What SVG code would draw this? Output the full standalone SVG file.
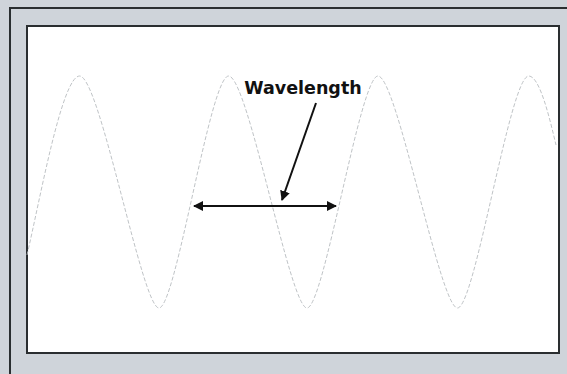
<svg xmlns="http://www.w3.org/2000/svg" width="567" height="374" viewBox="0 0 567 374">
<style>
.frame{fill:none;stroke:#2a2e30;stroke-width:2}
.wave{fill:none;stroke:#b8bcbf;stroke-width:0.9;stroke-dasharray:4 2}
.conn{fill:none;stroke:#111;stroke-width:2}
.lbl{font-family:"DejaVu Sans",Verdana,sans-serif;font-weight:bold;font-size:17.5px;fill:#111}
</style>
<defs>
<marker id="ah" viewBox="0 0 10 10" refX="9" refY="5" markerWidth="5" markerHeight="5" orient="auto-start-reverse">
<path d="M0,0 L10,5 L0,10 Z" fill="#111"/>
</marker>
</defs>
<rect x="0" y="0" width="567" height="374" fill="#cfd4da"/>
<rect class="frame" x="10" y="8" width="600" height="400"/>
<rect x="27" y="26" width="532" height="327" fill="#fff" stroke="#2a2e30" stroke-width="2"/>
<g id="wave">
<path class="wave" d="M27,255 C40,200 62,76 79.6,76 C100,76 142,308 159,308 C176,308 210,76 228.6,76 C248,76 290,308 307,308 C324,308 360,76 378,76 C397,76 440,308 457.5,308 C475,308 510,76 528.7,76 C540,76 550,120 556,145"/>
</g>
<g id="label">
<text class="lbl" x="303" y="94" text-anchor="middle">Wavelength</text>
</g>
<g id="connectors">
<line class="conn" x1="194" y1="206" x2="336" y2="206" marker-start="url(#ah)" marker-end="url(#ah)"/>
<line class="conn" x1="316" y1="103" x2="282" y2="200" marker-end="url(#ah)"/>
</g>
</svg>
